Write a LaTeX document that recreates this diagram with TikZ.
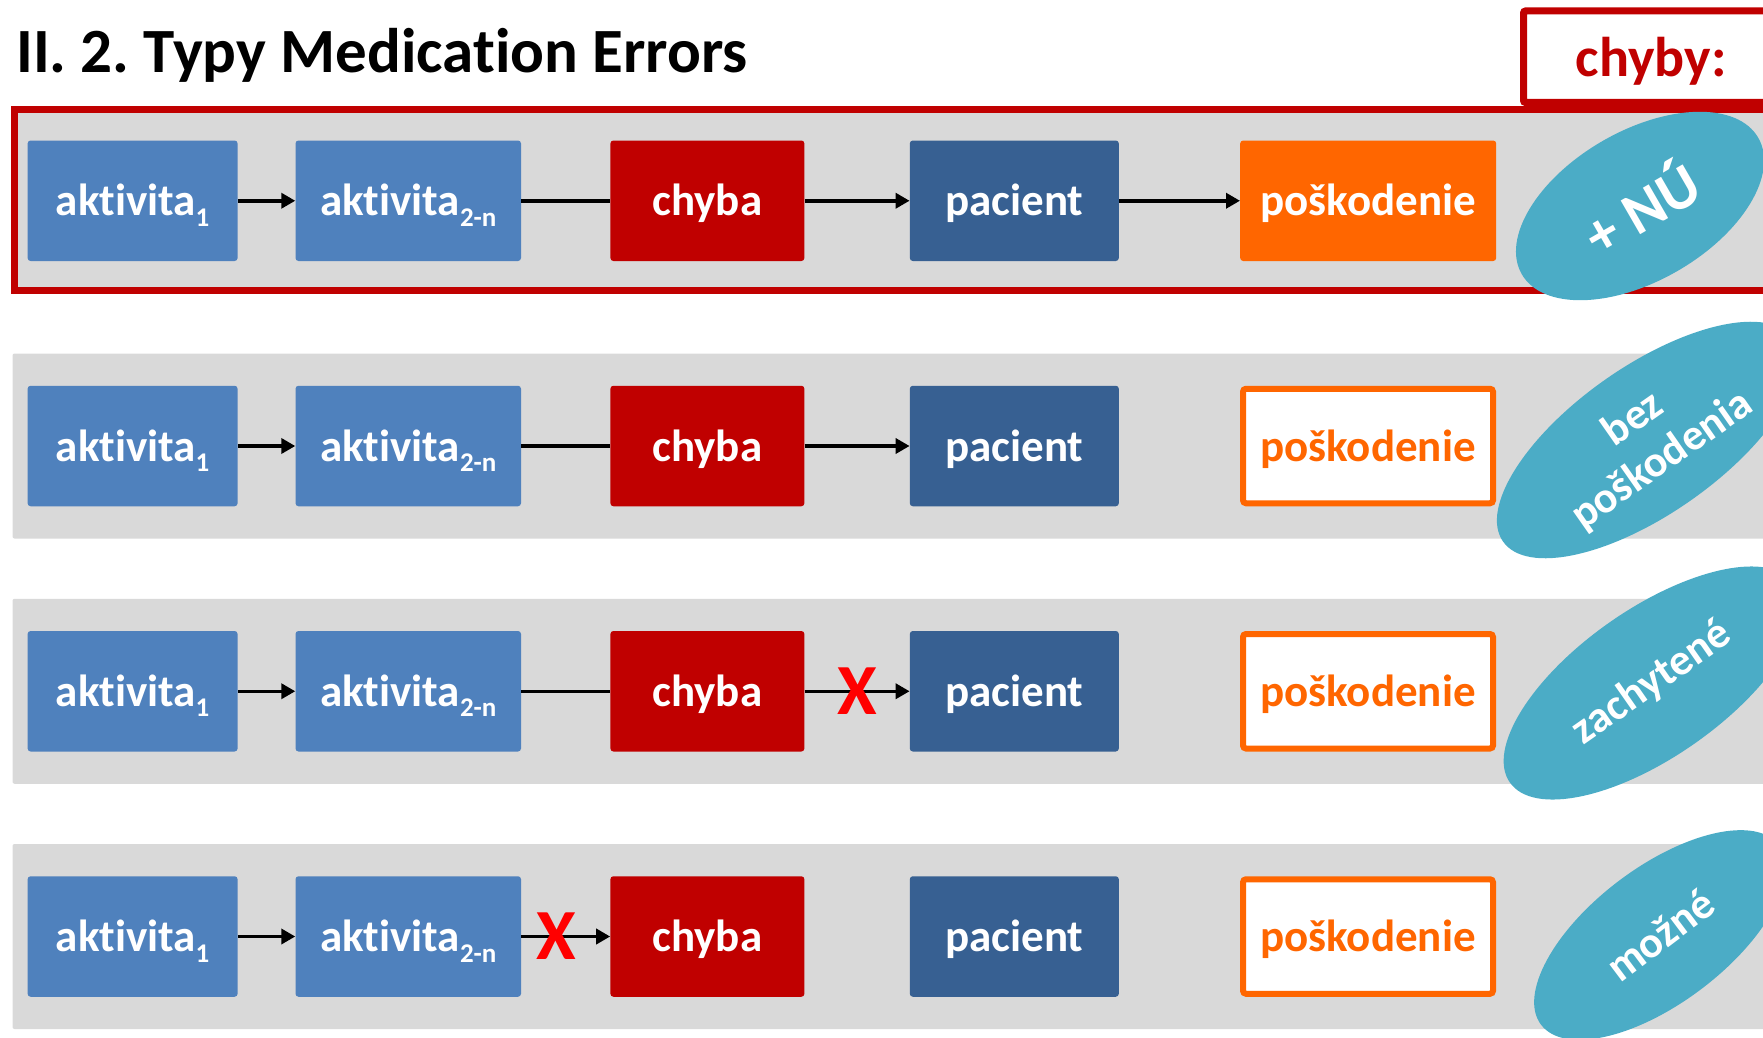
\documentclass[tikz,border=0pt]{standalone}
\usepackage{fontspec}
\setmainfont{Carlito}[Ligatures=NoCommon]
\usepackage{tikz}
\usetikzlibrary{shapes,arrows.meta,positioning}
\frenchspacing

\definecolor{actblue}{HTML}{4F81BD}
\definecolor{patblue}{HTML}{376092}
\definecolor{errred}{HTML}{C00000}
\definecolor{xred}{HTML}{FF0000}
\definecolor{harmorange}{HTML}{FF6600}
\definecolor{bandgray}{HTML}{D9D9D9}
\definecolor{bubbleblue}{HTML}{4BACC6}

\newcommand{\idx}[1]{\raisebox{-10.5pt}{\fontsize{27}{27}\selectfont #1}}

\begin{document}
\begin{tikzpicture}[
    x=1pt, y=-1pt,
    tile/.style={rectangle, rounded corners=3pt, inner sep=0pt, minimum height=120.5pt, text height=32pt, text depth=2pt, text=white, font=\bfseries\fontsize{45}{54}\selectfont},
    activity/.style={tile, fill=actblue, minimum width=210pt},
    nextactivity/.style={tile, fill=actblue, minimum width=225.5pt},
    mistake/.style={tile, fill=errred, minimum width=194pt},
    patient/.style={tile, fill=patblue, minimum width=209pt},
    harm/.style={tile, fill=harmorange, minimum width=256pt},
    noharm/.style={tile, draw=harmorange, line width=6pt, fill=white, text=harmorange, minimum width=250pt, minimum height=114.5pt},
    band/.style={fill=bandgray, rounded corners=2pt},
    frame/.style={fill=bandgray, draw=errred, line width=7pt},
    bubble/.style={ellipse, fill=bubbleblue, inner sep=0pt, text=white, align=center, font=\bfseries\fontsize{44}{50}\selectfont},
    cross/.style={inner sep=0pt, text=xred, font=\bfseries\fontsize{72}{72}\selectfont},
    arrow/.style={line width=3.5pt, ->, >={Triangle[length=14pt,width=15pt]}},
    link/.style={line width=3.5pt}
]
\useasboundingbox (0,0) rectangle (1763,1038);

% Bands
\draw[frame] (14,110) rectangle (1790,290);
\fill[band] (12.5,353.5) rectangle (1790,538.5);
\fill[band] (12.5,598.75) rectangle (1790,783.75);
\fill[band] (12.5,844) rectangle (1790,1029);

% Title and tag
\node[anchor=base west, inner sep=0pt, font=\bfseries\fontsize{63}{70}\selectfont] (title) at (16,72.7) {II. 2. Typy Medication Errors};
\draw[errred, line width=7pt, fill=white, rounded corners=2pt] (1523.5,11) rectangle (1790,102.5);
\node[anchor=base, inner sep=0pt, text=errred, font=\bfseries\fontsize{56}{60}\selectfont] (chyby) at (1651,77) {chyby:};

% Row A
\node[activity] (aktA) at (132.6,200.75) {aktivita\idx{1}};
\node[nextactivity, right=57.5pt of aktA] (aktnA) {aktivita\idx{2-n}};
\node[mistake, right=89pt of aktnA] (chybaA) {chyba};
\node[patient, right=105pt of chybaA] (pacA) {pacient};
\node[harm, right=121pt of pacA] (poskA) {poškodenie};

% Row B
\node[activity] (aktB) at (132.6,446) {aktivita\idx{1}};
\node[nextactivity, right=57.5pt of aktB] (aktnB) {aktivita\idx{2-n}};
\node[mistake, right=89pt of aktnB] (chybaB) {chyba};
\node[patient, right=105pt of chybaB] (pacB) {pacient};
\node[noharm, right=121pt of pacB] (poskB) {poškodenie};

% Row C
\node[activity] (aktC) at (132.6,691.25) {aktivita\idx{1}};
\node[nextactivity, right=57.5pt of aktC] (aktnC) {aktivita\idx{2-n}};
\node[mistake, right=89pt of aktnC] (chybaC) {chyba};
\node[patient, right=105pt of chybaC] (pacC) {pacient};
\node[noharm, right=121pt of pacC] (poskC) {poškodenie};

% Row D
\node[activity] (aktD) at (132.6,936.5) {aktivita\idx{1}};
\node[nextactivity, right=57.5pt of aktD] (aktnD) {aktivita\idx{2-n}};
\node[mistake, right=89pt of aktnD] (chybaD) {chyba};
\node[patient, right=105pt of chybaD] (pacD) {pacient};
\node[noharm, right=121pt of pacD] (poskD) {poškodenie};

% Arrows
\draw[arrow] (aktA) -- (aktnA);
\draw[link] (aktnA) -- (chybaA);
\draw[arrow] (chybaA) -- (pacA);
\draw[arrow] (pacA) -- (poskA);
\draw[arrow] (aktB) -- (aktnB);
\draw[link] (aktnB) -- (chybaB);
\draw[arrow] (chybaB) -- (pacB);
\draw[arrow] (aktC) -- (aktnC);
\draw[link] (aktnC) -- (chybaC);
\draw[arrow] (chybaC) -- node[cross] (xC) {X} (pacC);
\draw[arrow] (aktD) -- (aktnD);
\draw[arrow] (aktnD) -- node[cross, pos=0.4] (xD) {X} (chybaD);

% Types
\node[bubble, minimum width=273pt, minimum height=150pt, rotate=30, font=\bfseries\fontsize{60}{60}\selectfont] (nu) at (1640,206) {+ NÚ};
\node[bubble, minimum width=354pt, minimum height=148pt, rotate=35] (bez) at (1648,440) {bez\\poškodenia};
\node[bubble, minimum width=347pt, minimum height=148pt, rotate=35] (zach) at (1652,683) {zachytené};
\node[bubble, minimum width=298pt, minimum height=136pt, rotate=37] (mozne) at (1660,935) {možné};
\end{tikzpicture}
\end{document}
